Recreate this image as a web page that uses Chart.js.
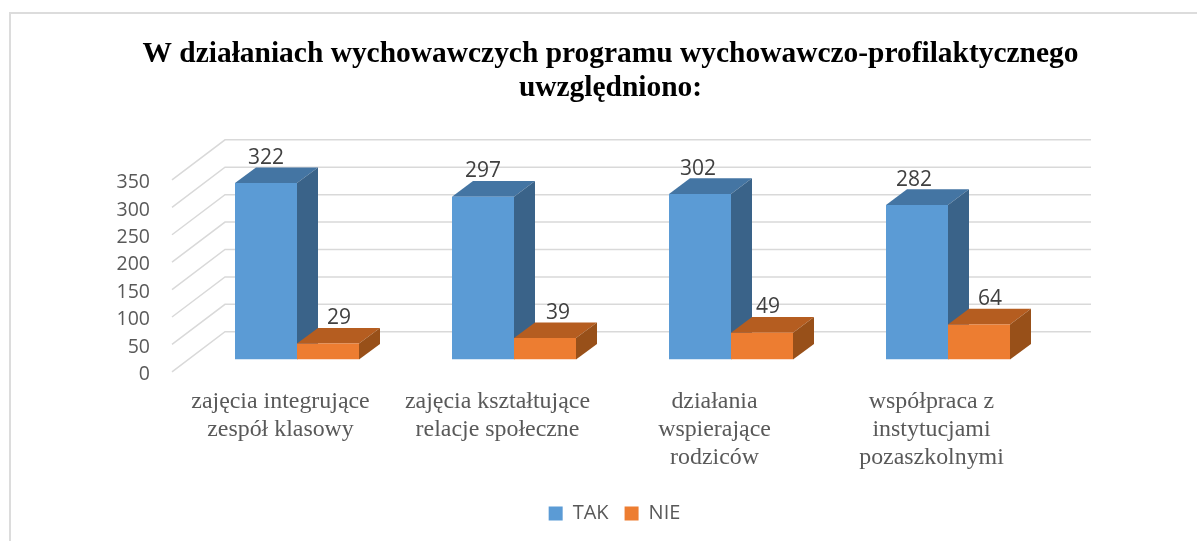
<!DOCTYPE html>
<html lang="pl">
<head>
<meta charset="utf-8">
<style>
html,body{margin:0;padding:0;background:#fff;overflow:hidden}
#wrap{position:relative;width:1197px;height:541px}
#frame{position:absolute;left:9px;top:12px;right:0;bottom:0;border-top:2px solid #dcdcdc;border-left:2px solid #dcdcdc}
canvas{position:absolute;left:0;top:0}
</style>
</head>
<body>
<div id="wrap"><div id="frame"></div><canvas id="c" width="1197" height="541"></canvas></div>
<script src="https://cdn.jsdelivr.net/npm/chart.js@4"></script>
<script>
const titleLines = ["W działaniach wychowawczych programu wychowawczo-profilaktycznego", "uwzględniono:"];
const categories = [
  ["zajęcia integrujące", "zespół klasowy"],
  ["zajęcia kształtujące", "relacje społeczne"],
  ["działania", "wspierające", "rodziców"],
  ["współpraca z", "instytucjami", "pozaszkolnymi"]
];
const tak = [322, 297, 302, 282];
const nie = [29, 39, 49, 64];
const yMin = 0, yMax = 350, yStep = 50;

const depth = {dx: 21, dy: 15.6};
const wall = {frontY: 12.3, backY: -27.8, frontX: -16.5, backX: 36.5, rightX: 34.5};
const labelShift = {0: [0, 0, -2, -3], 1: [11, 13, 6, 11]};
const faces = {
  0: {top: "#4475A3", side: "#3A6389"},
  1: {top: "#B55D20", side: "#985019"}
};

const wall3d = {
  id: "wall3d",
  afterLayout(chart) {
    const t = chart.titleBlock, l = chart.legend;
    const ts = 610.5 - (t.left + t.right) / 2;
    t.left += ts; t.right += ts;
    const ls = 614.5 - (l.left + l.right) / 2;
    l.left += ls; l.right += ls;
  },
  beforeDatasetsDraw(chart) {
    const {ctx, chartArea: a, scales: {y}} = chart;
    ctx.save();
    ctx.strokeStyle = "#d9d9d9";
    ctx.lineWidth = 1.5;
    y.ticks.forEach(t => {
      const p = y.getPixelForValue(t.value);
      ctx.beginPath();
      ctx.moveTo(a.left + wall.frontX, p + wall.frontY);
      ctx.lineTo(a.left + wall.backX, p + wall.backY);
      ctx.lineTo(a.right + wall.rightX, p + wall.backY);
      ctx.stroke();
    });
    chart.data.datasets.forEach((ds, i) => {
      const f = faces[i];
      chart.getDatasetMeta(i).data.forEach(b => {
        const l = b.x - b.width / 2, r = b.x + b.width / 2, t = b.y, bot = b.base;
        ctx.fillStyle = f.top;
        ctx.beginPath();
        ctx.moveTo(l, t); ctx.lineTo(l + depth.dx, t - depth.dy);
        ctx.lineTo(r + depth.dx, t - depth.dy); ctx.lineTo(r, t);
        ctx.closePath(); ctx.fill();
        ctx.fillStyle = f.side;
        ctx.beginPath();
        ctx.moveTo(r, t); ctx.lineTo(r + depth.dx, t - depth.dy);
        ctx.lineTo(r + depth.dx, bot - depth.dy); ctx.lineTo(r, bot);
        ctx.closePath(); ctx.fill();
      });
    });
    ctx.restore();
  },
  afterDatasetsDraw(chart) {
    const {ctx} = chart;
    ctx.save();
    ctx.font = "21px 'Open Sans'";
    ctx.fillStyle = "#404040";
    ctx.textAlign = "center";
    ctx.textBaseline = "middle";
    chart.data.datasets.forEach((ds, i) => {
      chart.getDatasetMeta(i).data.forEach((b, k) => {
        ctx.fillText(String(ds.data[k]), b.x + labelShift[i][k], b.y - 25.3);
      });
    });
    ctx.restore();
  }
};

new Chart(document.getElementById("c"), {
  type: "bar",
  plugins: [wall3d],
  data: {
    labels: categories,
    datasets: [
      {label: "TAK", data: tak, backgroundColor: "#5B9BD5", borderWidth: 0},
      {label: "NIE", data: nie, backgroundColor: "#ED7D31", borderWidth: 0}
    ]
  },
  options: {
    responsive: false,
    animation: false,
    layout: {padding: {left: 0, right: 140.5, top: 0, bottom: 7.5}},
    datasets: {bar: {categoryPercentage: 0.5714, barPercentage: 1}},
    plugins: {
      tooltip: {enabled: false},
      title: {
        display: true,
        text: titleLines,
        color: "#000000",
        font: {family: "'Liberation Serif'", size: 29.45, weight: "bold", lineHeight: 1.155},
        padding: {top: 37, bottom: 62.6}
      },
      legend: {
        position: "bottom",
        labels: {
          boxWidth: 14, boxHeight: 14, padding: 16,
          color: "#595959",
          font: {family: "'Open Sans'", size: 20}
        }
      }
    },
    scales: {
      x: {
        grid: {display: false, drawTicks: false},
        border: {display: false},
        afterFit(s) { s.height = 128.0; },
        ticks: {
          autoSkip: false, maxRotation: 0, minRotation: 0,
          labelOffset: -16.5, padding: 28.2,
          color: "#595959",
          font: {family: "'Liberation Serif'", size: 23.9, lineHeight: "28px"}
        }
      },
      y: {
        min: yMin, max: yMax,
        grid: {display: false, drawTicks: false},
        border: {display: false},
        afterFit(s) { s.width = 188.5; },
        ticks: {
          stepSize: yStep, padding: 38.5, labelOffset: 15,
          color: "#595959",
          font: {family: "'Open Sans'", size: 19.5}
        }
      }
    }
  }
});
</script>
</body>
</html>
